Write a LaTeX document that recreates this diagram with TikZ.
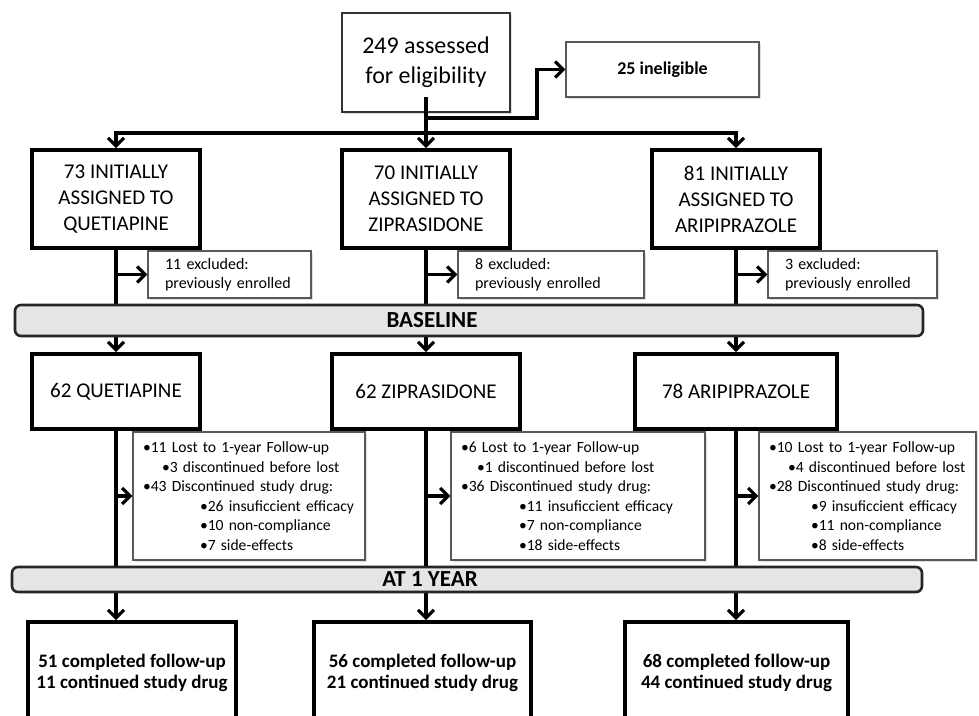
\documentclass[tikz,border=0pt]{standalone}
\usepackage{fontspec}
\setmainfont{Carlito}
\usetikzlibrary{arrows.meta,shadows}

\begin{document}
\begin{tikzpicture}[x=0.5pt,y=-0.5pt,
    thinbox/.style={draw=black!65, line width=0.7pt, fill=white, inner sep=0pt,
        drop shadow={opacity=0.25, shadow xshift=1.2pt, shadow yshift=-1.2pt}},
    armbox/.style={draw=black, line width=1.8pt, fill=white, inner sep=0pt, align=center,
        font=\fontsize{10.5}{13}\selectfont},
    outbox/.style={armbox, minimum height=50.5pt, font=\bfseries\fontsize{9.5}{10.5}\selectfont},
    excbox/.style={thinbox, minimum height=23.5pt, align=left, inner xsep=8.5pt,
        font=\fontsize{8}{9.5}\selectfont},
    detailbox/.style={thinbox, minimum height=64pt, align=left, inner xsep=5pt,
        font=\fontsize{7.8}{9.75}\selectfont},
    bar/.style={draw=black!85, line width=1.3pt, fill=black!10, rounded corners=3pt,
        minimum width=455pt, inner sep=0pt},
    bartext/.style={font=\bfseries\fontsize{11.5}{13}\selectfont},
    link/.style={line width=1.6pt},
    arr/.style={link, -{Straight Barb[length=4pt,width=8pt]}}
]
    \useasboundingbox (0,0) rectangle (979,716);
    \clip (0,0) rectangle (979,716);

    % Screening
    \node[thinbox, draw=black!80, line width=0.9pt, minimum width=84pt, minimum height=49.5pt,
        align=center, font=\fontsize{12}{15}\selectfont] (screen) at (426,62.5) {249 assessed\\for eligibility};
    \node[thinbox, minimum width=96.5pt, minimum height=27.5pt,
        font=\bfseries\fontsize{9}{11}\selectfont] (inel) at (662.5,69.5) {25 ineligible};

    % Initially assigned
    \node[armbox, minimum width=84pt, minimum height=49pt] (qa) at (116,199) {73 INITIALLY\\ASSIGNED TO\\QUETIAPINE};
    \node[armbox, minimum width=84pt, minimum height=49pt] (za) at (426,199) {70 INITIALLY\\ASSIGNED TO\\ZIPRASIDONE};
    \node[armbox, minimum width=84pt, minimum height=49pt] (aa) at (736,199) {81 INITIALLY\\ASSIGNED TO\\ARIPIPRAZOLE};

    % Excluded
    \node[excbox, text width=64.5pt] (qx) at (229.5,274.5) {11 excluded:\\previously enrolled};
    \node[excbox, text width=76pt] (zx) at (551,274.5) {8 excluded:\\previously enrolled};
    \node[excbox, text width=67.5pt] (ax) at (852.5,274.5) {3 excluded:\\previously enrolled};

    % Baseline groups
    \node[armbox, minimum width=84pt, minimum height=37.5pt] (qb) at (116,391.5) {62 QUETIAPINE};
    \node[armbox, minimum width=94pt, minimum height=37.5pt] (zb) at (426,391.5) {62 ZIPRASIDONE};
    \node[armbox, minimum width=101pt, minimum height=37.5pt] (ab) at (736,391.5) {78 ARIPIPRAZOLE};

    % Losses during the year
    \node[detailbox, text width=106pt] (qd) at (249,496) {%
        \textbullet11 Lost to 1-year Follow-up\\
        \hspace*{9.5pt}\textbullet3 discontinued before lost\\
        \textbullet43 Discontinued study drug:\\
        \hspace*{28.5pt}\textbullet26 insuficcient efficacy\\
        \hspace*{28.5pt}\textbullet10 non-compliance\\
        \hspace*{28.5pt}\textbullet7 side-effects};
    \node[detailbox, text width=117pt] (zd) at (578,496) {%
        \textbullet6 Lost to 1-year Follow-up\\
        \hspace*{8pt}\textbullet1 discontinued before lost\\
        \textbullet36 Discontinued study drug:\\
        \hspace*{29pt}\textbullet11 insuficcient efficacy\\
        \hspace*{29pt}\textbullet7 non-compliance\\
        \hspace*{29pt}\textbullet18 side-effects};
    \node[detailbox, text width=98.5pt] (ad) at (867.5,496) {%
        \textbullet10 Lost to 1-year Follow-up\\
        \hspace*{9.5pt}\textbullet4 discontinued before lost\\
        \textbullet28 Discontinued study drug:\\
        \hspace*{21pt}\textbullet9 insuficcient efficacy\\
        \hspace*{21pt}\textbullet11 non-compliance\\
        \hspace*{21pt}\textbullet8 side-effects};

    % Completed
    \node[outbox, minimum width=104pt] (qc) at (132,672.5) {51 completed follow-up\\11 continued study drug};
    \node[outbox, minimum width=108.5pt] (zc) at (422.5,672.5) {56 completed follow-up\\21 continued study drug};
    \node[outbox, minimum width=111.5pt] (ac) at (736.5,672.5) {68 completed follow-up\\44 continued study drug};

    % Arrows from screening
    \coordinate (branch) at (426,118);
    \coordinate (bend) at (537,118);
    \coordinate (split) at (426,133);
    \draw[link] ([yshift=8pt]screen.south) -- (split);
    \draw[arr] (branch) -- (bend) |- (inel.west);
    \draw[arr] (split) -| (qa.north);
    \draw[arr] (split) -- (za.north);
    \draw[arr] (split) -| (aa.north);

    % Arrows through baseline
    \draw[arr] (qa.south |- qx.west) -- (qx.west);
    \draw[arr] (za.south |- zx.west) -- (zx.west);
    \draw[arr] (aa.south |- ax.west) -- (ax.west);
    \draw[arr] (qa.south) -- (qb.north);
    \draw[arr] (za.south) -- (zb.north);
    \draw[arr] (aa.south) -- (ab.north);

    % Arrows through 1 year
    \draw[arr] (qb.south |- qd.west) -- (qd.west);
    \draw[arr] (zb.south |- zd.west) -- (zd.west);
    \draw[arr] (ab.south |- ad.west) -- (ad.west);
    \draw[arr] (qb.south) -- (qb.south |- qc.north);
    \draw[arr] (zb.south) -- (zb.south |- zc.north);
    \draw[arr] (ab.south) -- (ab.south |- ac.north);

    % Time bars on top
    \node[bar, minimum width=454pt, minimum height=15.5pt,
        label={[bartext, xshift=-18.5pt]center:BASELINE}] (base) at (469,320.5) {};
    \node[bar, minimum height=12.5pt,
        label={[bartext, xshift=-18.5pt]center:AT 1 YEAR}] (year) at (467,579.5) {};
\end{tikzpicture}
\end{document}
